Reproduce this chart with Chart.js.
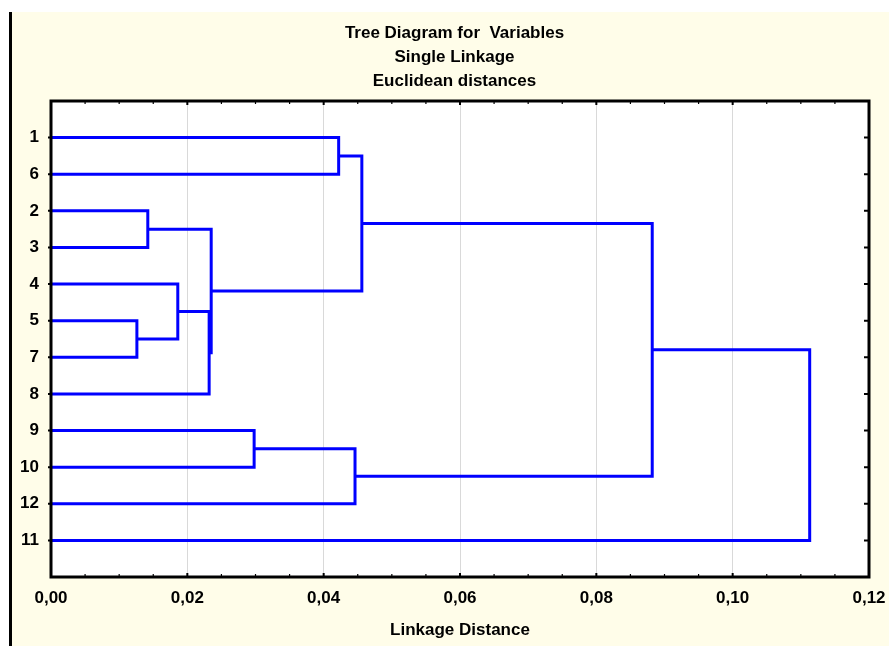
<!DOCTYPE html>
<html><head><meta charset="utf-8">
<script src="https://cdn.jsdelivr.net/npm/chart.js@4.4.1/dist/chart.umd.min.js"></script>
<style>
html,body{margin:0;padding:0;background:#fff;width:889px;height:646px;overflow:hidden}
#wrap{position:absolute;left:9px;top:12px;width:877px;height:634px;border-left:3px solid #000;background:#fffde9;overflow:hidden}
canvas{display:block}
</style></head><body>
<div id="wrap"><canvas id="c" width="885" height="634"></canvas></div>
<script>
const titleLines = ['Tree Diagram for  Variables', 'Single Linkage', 'Euclidean distances'];
const xAxisTitle = 'Linkage Distance';
const leafLabels = ['1', '6', '2', '3', '4', '5', '7', '8', '9', '10', '12', '11'];
const xTicks = [0, 0.02, 0.04, 0.06, 0.08, 0.10, 0.12];
// clusters 'cN' are created in merge order (c1 = first merge)
const mergeLeft   = ['1', '2', '5', '4',  'c4', 'c2', 'c1', '9',  'c8', 'c7', 'c10'];
const mergeRight  = ['6', '3', '7', 'c3', '8',  'c5', 'c6', '10', '12', 'c9', '11'];
const mergeHeight = [0.0422, 0.0142, 0.0126, 0.0186, 0.0232, 0.0235, 0.0456, 0.0298, 0.0446, 0.0882, 0.1113];

const FONT = '"Liberation Sans", Arial, sans-serif';
const node = {};
leafLabels.forEach((l, i) => { node[l] = {x: 0, y: i + 1}; });
const links = mergeHeight.map((h, i) => {
  const a = node[mergeLeft[i]], b = node[mergeRight[i]];
  node['c' + (i + 1)] = {x: h, y: (a.y + b.y) / 2};
  return [{x: a.x, y: a.y}, {x: h, y: a.y}, {x: h, y: b.y}, {x: b.x, y: b.y}];
});

const framePlugin = {
  id: 'frame',
  beforeDraw(chart) {
    const {ctx, chartArea: {left, right, top, bottom}} = chart;
    ctx.save();
    ctx.fillStyle = '#ffffff';
    ctx.fillRect(left, top, right - left, bottom - top);
    ctx.restore();
  },
  afterDatasetsDraw(chart) {
    const {ctx, chartArea: {left, right, top, bottom}, scales: {x, y}} = chart;
    ctx.save();
    ctx.strokeStyle = '#000';
    const minorStep = 0.005;
    for (let k = 0; k * minorStep <= 0.12 + 1e-9; k++) {
      const px = x.getPixelForValue(k * minorStep);
      const major = k % 4 === 0;
      const len = major ? 4 : 3;
      ctx.lineWidth = major ? 2 : 1.2;
      ctx.beginPath();
      ctx.moveTo(px, top); ctx.lineTo(px, top + len);
      ctx.moveTo(px, bottom); ctx.lineTo(px, bottom - len);
      ctx.stroke();
    }
    ctx.lineWidth = 2;
    leafLabels.forEach((l, i) => {
      const py = y.getPixelForValue(i + 1);
      ctx.beginPath();
      ctx.moveTo(right, py); ctx.lineTo(right - 5, py);
      ctx.moveTo(left, py); ctx.lineTo(left - 3, py);
      ctx.stroke();
    });
    ctx.lineWidth = 3;
    ctx.strokeRect(left, top, right - left, bottom - top);
    ctx.restore();
  }
};

new Chart(document.getElementById('c'), {
  type: 'scatter',
  data: {
    datasets: links.map(d => ({
      data: d, showLine: true, borderColor: '#0000ff', borderWidth: 3,
      pointRadius: 0, pointHoverRadius: 0, fill: false, tension: 0
    }))
  },
  options: {
    responsive: false, animation: false,
    devicePixelRatio: 1,
    layout: {padding: {left: 0, right: 0, top: 0, bottom: 0}},
    events: [],
    plugins: {
      legend: {display: false},
      tooltip: {enabled: false},
      title: {
        display: true, text: titleLines, color: '#000',
        font: {family: FONT, size: 17, weight: 'bold', lineHeight: 24 / 17},
        padding: {top: 9, bottom: 8}
      }
    },
    scales: {
      x: {
        type: 'linear', min: 0, max: 0.12,
        afterBuildTicks: s => { s.ticks = xTicks.map(v => ({value: v})); },
        afterFit: s => { s.height = 69; },
        ticks: {
          color: '#000', padding: 11, maxRotation: 0, autoSkip: false,
          font: {family: FONT, size: 17, weight: 'bold'},
          callback: v => Number(v).toFixed(2).replace('.', ',')
        },
        grid: {display: true, drawTicks: false, color: '#d9d9d9', lineWidth: 1},
        border: {display: false},
        title: {display: true, text: xAxisTitle, color: '#000',
          font: {family: FONT, size: 17, weight: 'bold'}, padding: {top: 0, bottom: 5}}
      },
      y: {
        type: 'linear', position: 'left', min: 0, max: 13, reverse: true,
        afterBuildTicks: s => { s.ticks = leafLabels.map((l, i) => ({value: i + 1})); },
        afterFit: s => { s.width = 39; },
        ticks: {
          color: '#000', padding: 12, autoSkip: false,
          font: {family: FONT, size: 17, weight: 'bold'},
          callback: (v, i) => leafLabels[i]
        },
        grid: {display: false, drawTicks: false},
        border: {display: false}
      },
      yRight: {
        type: 'linear', position: 'right', min: 0, max: 13, display: true,
        afterFit: s => { s.width = 28; },
        ticks: {display: false},
        grid: {display: false, drawTicks: false},
        border: {display: false}
      }
    }
  },
  plugins: [framePlugin]
});
</script>
</body></html>
